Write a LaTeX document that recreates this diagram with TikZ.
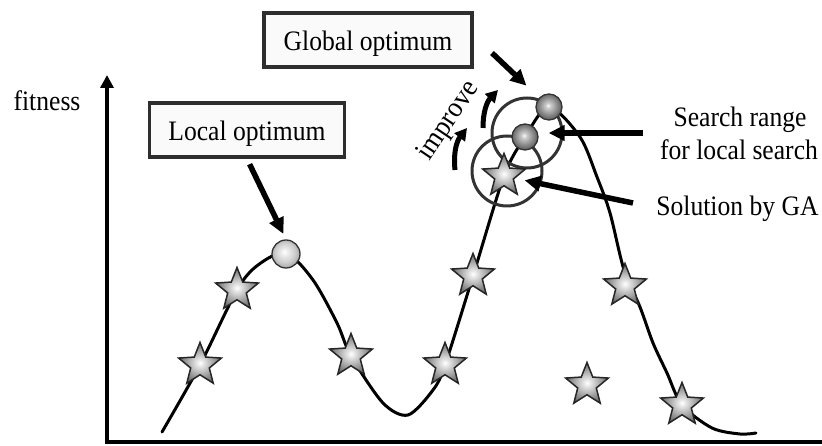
\documentclass[tikz,border=0pt]{standalone}
\usepackage{fontspec}
\setmainfont{Liberation Serif}
\usetikzlibrary{shapes.geometric,arrows.meta,calc}
\newcommand{\vstr}[1]{\scalebox{1}[1.1]{#1}}
\pgfdeclareradialshading{lightball}{\pgfpoint{-3bp}{4bp}}{color(0bp)=(white); color(5bp)=(black!6); color(18bp)=(black!20); color(25bp)=(black!32); color(50bp)=(black!32)}
\pgfdeclareradialshading{greyball}{\pgfpoint{-2bp}{3bp}}{color(0bp)=(white); color(4bp)=(black!18); color(18bp)=(black!48); color(25bp)=(black!62); color(50bp)=(black!62)}
\begin{document}
\begin{tikzpicture}[x=1pt,y=1pt,
  font=\fontsize{25.6}{32}\selectfont,
  lbl/.style={draw=black!82, line width=3.6pt, fill=black!2, minimum height=54pt, inner sep=0pt, text height=21pt, text depth=0pt},
  gastar/.style={star, star points=5, star point ratio=2.3, minimum size=45pt, inner sep=0pt, draw=black!85, line width=1.5pt, shading=radial, inner color=white, outer color=black!58},
  ballA/.style={circle, minimum size=28pt, inner sep=0pt, draw=black!80, line width=1.3pt, shading=lightball},
  ballB/.style={circle, minimum size=26pt, inner sep=0pt, draw=black!80, line width=1.3pt, shading=greyball},
  rangec/.style={circle, minimum size=70pt, inner sep=0pt, draw=black!80, line width=3pt},
  arr/.style={line width=5.5pt, -{Triangle[length=16pt,width=15pt]}},
  imp/.style={line width=5pt, -{Triangle[length=12pt,width=13pt]}},
  txt/.style={inner sep=0pt, align=center},
  axis/.style={line width=4.5pt}
]
\fill[white] (0,0) rectangle (822,446);
\useasboundingbox (0,0) rectangle (822,446);

% axes
\coordinate (O) at (107,4);
\coordinate (ytop) at (107,371);
\coordinate (xend) at (838,4);
\draw[axis, {Triangle[length=13pt,width=13pt]}-{Triangle[length=16pt,width=14pt]}] (ytop) -- (O.center) -- (xend);

% fitness landscape
\draw[line width=3pt, line cap=round] plot[smooth, tension=0.5] coordinates {
 (162,14) (200,81) (237,156) (258,181) (286,193) (313,166) (337,123) (351,90)
 (383,43) (408,31) (433,56) (445,81) (473,170) (504,270) (525,309) (549,339)
 (580,309) (597,269) (610,233) (624,176) (640,139) (653,103) (667,73) (682,41)
 (712,18) (740,12) (756,13)};

% search ranges
\node[rangec] (c1) at (527,313) {};
\node[rangec] (c2) at (507,275) {};

% GA solutions
\node[gastar] (s1) at (200,81) {};
\node[gastar] (s2) at (237,156) {};
\node[gastar] (s3) at (351,90) {};
\node[gastar] (s4) at (445,81) {};
\node[gastar] (s5) at (473,170) {};
\node[gastar] (s6) at (504,270) {};
\node[gastar] (s7) at (625,160) {};
\node[gastar] (s8) at (682,41) {};
\node[gastar] (s9) at (587,61) {};

% optima
\node[ballA] (lball) at (286,192) {};
\node[ballB] (mball) at (525,309) {};
\node[ballB] (tball) at (549,339) {};

% labels
\node[txt, anchor=base] (fit) at (47,335) {\vstr{fitness}};
\node[lbl, minimum width=195pt] (lopt) at (247,316) {\vstr{Local optimum}};
\node[lbl, minimum width=208pt] (gopt) at (368,406) {\vstr{Global optimum}};
\node[txt, anchor=base] (sr1) at (740,319.3) {\vstr{Search range}};
\node[txt, anchor=base] (sr2) at (739,286) {\vstr{for local search}};
\node[txt, anchor=base] (sol) at (737.5,230) {\vstr{Solution by GA}};
\node[txt, rotate=56] (impr) at (449,325) {\scalebox{1.04}[1.12]{improve}};

% connectors
\draw[arr, shorten <=6pt, shorten >=6pt] (lopt.south) -- (lball.north);
\coordinate (gs) at (492,393);
\draw[arr, shorten >=31pt] (gs) -- (tball.center);
\coordinate (srs) at (643,313);
\draw[arr, shorten >=10pt] (srs) -- (srs -| mball.east);
\coordinate (sols) at (633,243);
\draw[arr, shorten >=21pt] (sols) -- (s6.center);

% improve arrows
\coordinate (i1a) at (455,276);
\coordinate (i1b) at (467,318);
\coordinate (i2a) at (483,318);
\coordinate (i2b) at (498,356);
\draw[imp] (i1a) to[bend left=22] (i1b);
\draw[imp] (i2a) to[bend left=22] (i2b);
\end{tikzpicture}
\end{document}
